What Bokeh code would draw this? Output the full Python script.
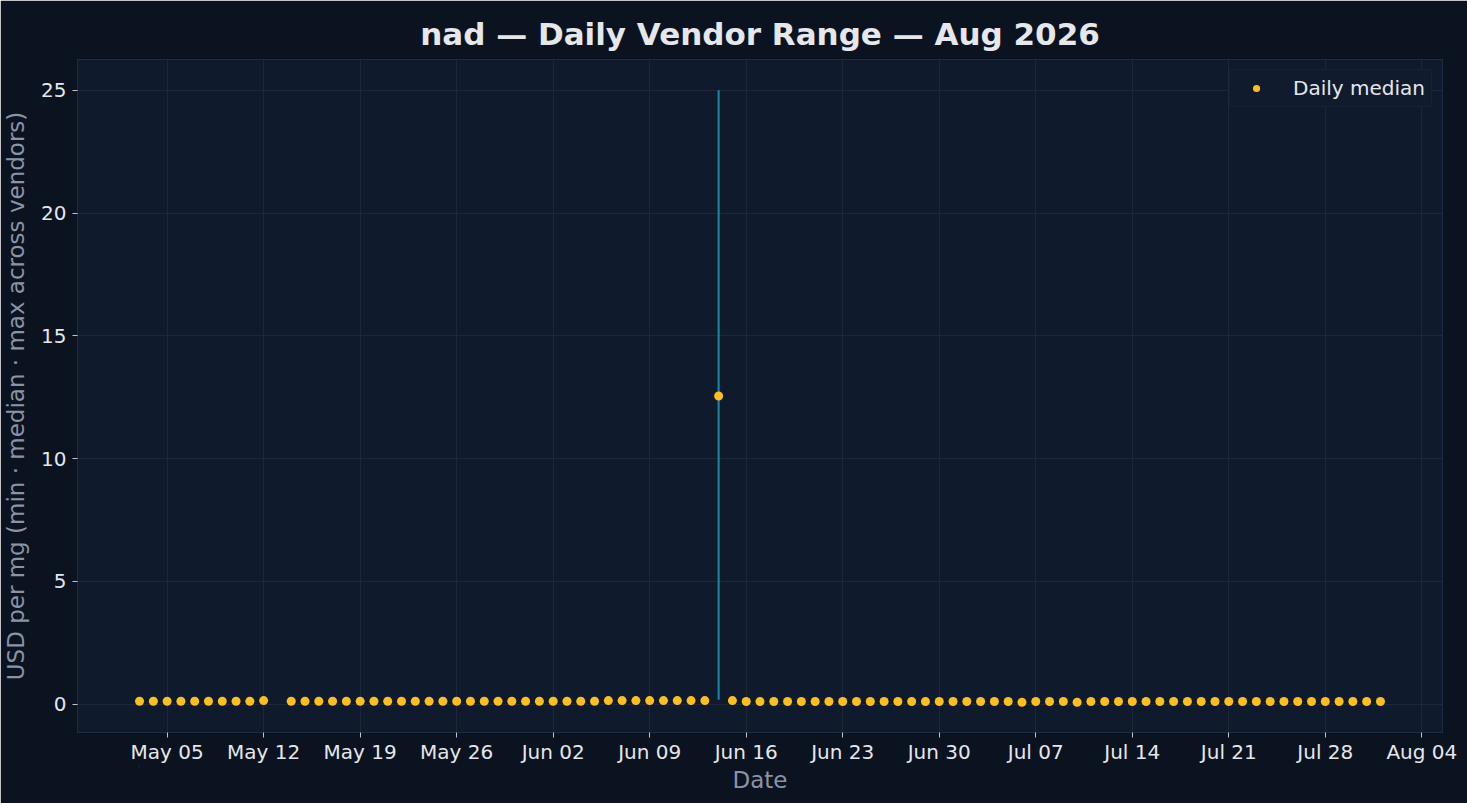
import numpy as np
import pandas as pd
from bokeh.plotting import figure
from bokeh.models import ColumnDataSource, FixedTicker, DatetimeTickFormatter, Range1d, Legend, LegendItem
from bokeh.embed import file_html
from bokeh.resources import INLINE

# ---- data ----
dates = pd.date_range("2026-05-03", "2026-08-01", freq="D")
dates = dates[dates != pd.Timestamp("2026-05-13")]

median_vals = (
    [0.12] * 9            # May 03 - May 11
    + [0.15]              # May 12
    + [0.12] * 23         # May 14 - Jun 05
    + [0.15] * 8          # Jun 06 - Jun 13
    + [12.55]             # Jun 14
    + [0.15]              # Jun 15
    + [0.11] * 20         # Jun 16 - Jul 05
    + [0.08]              # Jul 06
    + [0.11] * 3          # Jul 07 - Jul 09
    + [0.08]              # Jul 10
    + [0.11] * 22         # Jul 11 - Aug 01
)
min_vals = [0.18 if m > 1 else m - 0.01 for m in median_vals]
max_vals = [25.0 if m > 1 else m + 0.02 for m in median_vals]

tick_dates = pd.date_range("2026-05-05", "2026-08-04", freq="7D")
y_ticks = [0, 5, 10, 15, 20, 25]

title_text = "nad \u2014 Daily Vendor Range \u2014 Aug 2026"
x_label = "Date"
y_label = "USD per mg (min \u00b7 median \u00b7 max across vendors)"
legend_label = "Daily median"

src = ColumnDataSource(dict(date=dates, med=median_vals, lo=min_vals, hi=max_vals))

PAGE_BG = "#0b1220"
PLOT_BG = "#0f1a2d"
GRID = "#1c2739"
TEXT = "#e5e7eb"
MUTED = "#8a94a6"
FONT = "DejaVu Sans"

p = figure(
    width=1467, height=803,
    x_axis_type="datetime",
    output_backend="svg",
    toolbar_location=None,
    min_border_left=77, min_border_right=25, min_border_top=59, min_border_bottom=71,
)
p.x_range = Range1d(pd.Timestamp("2026-04-28 12:00"), pd.Timestamp("2026-08-05 12:00"))
p.y_range = Range1d(-1.15, 26.25)

p.border_fill_color = PAGE_BG
p.background_fill_color = PLOT_BG
p.outline_line_color = "#1e2a3d"

p.title.text = title_text
p.title.align = "center"
p.title.text_font = FONT
p.title.text_font_size = "31px"
p.title.text_color = TEXT
p.title.text_font_style = "bold"
p.title.vertical_align = "top"
p.title.standoff = 12

p.segment(x0="date", y0="lo", x1="date", y1="hi", source=src,
          line_color="#1b97b4", line_width=2, line_alpha=0.9)
r = p.scatter(x="date", y="med", source=src, size=9, fill_color="#fbbf24",
              line_color="#fbbf24", line_width=0)

p.xaxis.ticker = FixedTicker(ticks=[t.value // 10**6 for t in tick_dates])
p.xaxis.formatter = DatetimeTickFormatter(days="%b %d", months="%b %d")
p.yaxis.ticker = FixedTicker(ticks=y_ticks)

for ax in (p.xaxis[0], p.yaxis[0]):
    ax.axis_line_color = None
    ax.major_tick_line_color = "#c0c6d0"
    ax.major_tick_out = 5
    ax.major_tick_in = 0
    ax.minor_tick_line_color = None
    ax.major_label_text_color = TEXT
    ax.major_label_text_font = FONT
    ax.major_label_text_font_size = "20px"
    ax.axis_label_text_color = MUTED
    ax.axis_label_text_font = FONT
    ax.axis_label_text_font_size = "23px"
    ax.axis_label_text_font_style = "normal"

p.xaxis.axis_label = x_label
p.yaxis.axis_label = y_label
p.xaxis.axis_label_standoff = 0
p.yaxis.axis_label_standoff = 9
p.xaxis.major_label_standoff = 2
p.yaxis.major_label_standoff = 6

p.xgrid.grid_line_color = GRID
p.ygrid.grid_line_color = GRID
p.xgrid.grid_line_width = 1
p.ygrid.grid_line_width = 1

legend = Legend(items=[LegendItem(label=legend_label, renderers=[r])],
                location="top_right")
legend.background_fill_color = "#111b2e"
legend.background_fill_alpha = 1.0
legend.border_line_color = "#1e2a3d"
legend.label_text_color = TEXT
legend.label_text_font = FONT
legend.label_text_font_size = "20px"
legend.label_height = 20
legend.glyph_width = 40
legend.glyph_height = 18
legend.padding = 6
legend.margin = 10
legend.spacing = 0
legend.label_standoff = 17
p.add_layout(legend)

html = file_html(p, INLINE)
html = html.replace("<body>", '<body style="margin:0;background:%s;">' % PAGE_BG, 1)
open("out.html", "w").write(html)
